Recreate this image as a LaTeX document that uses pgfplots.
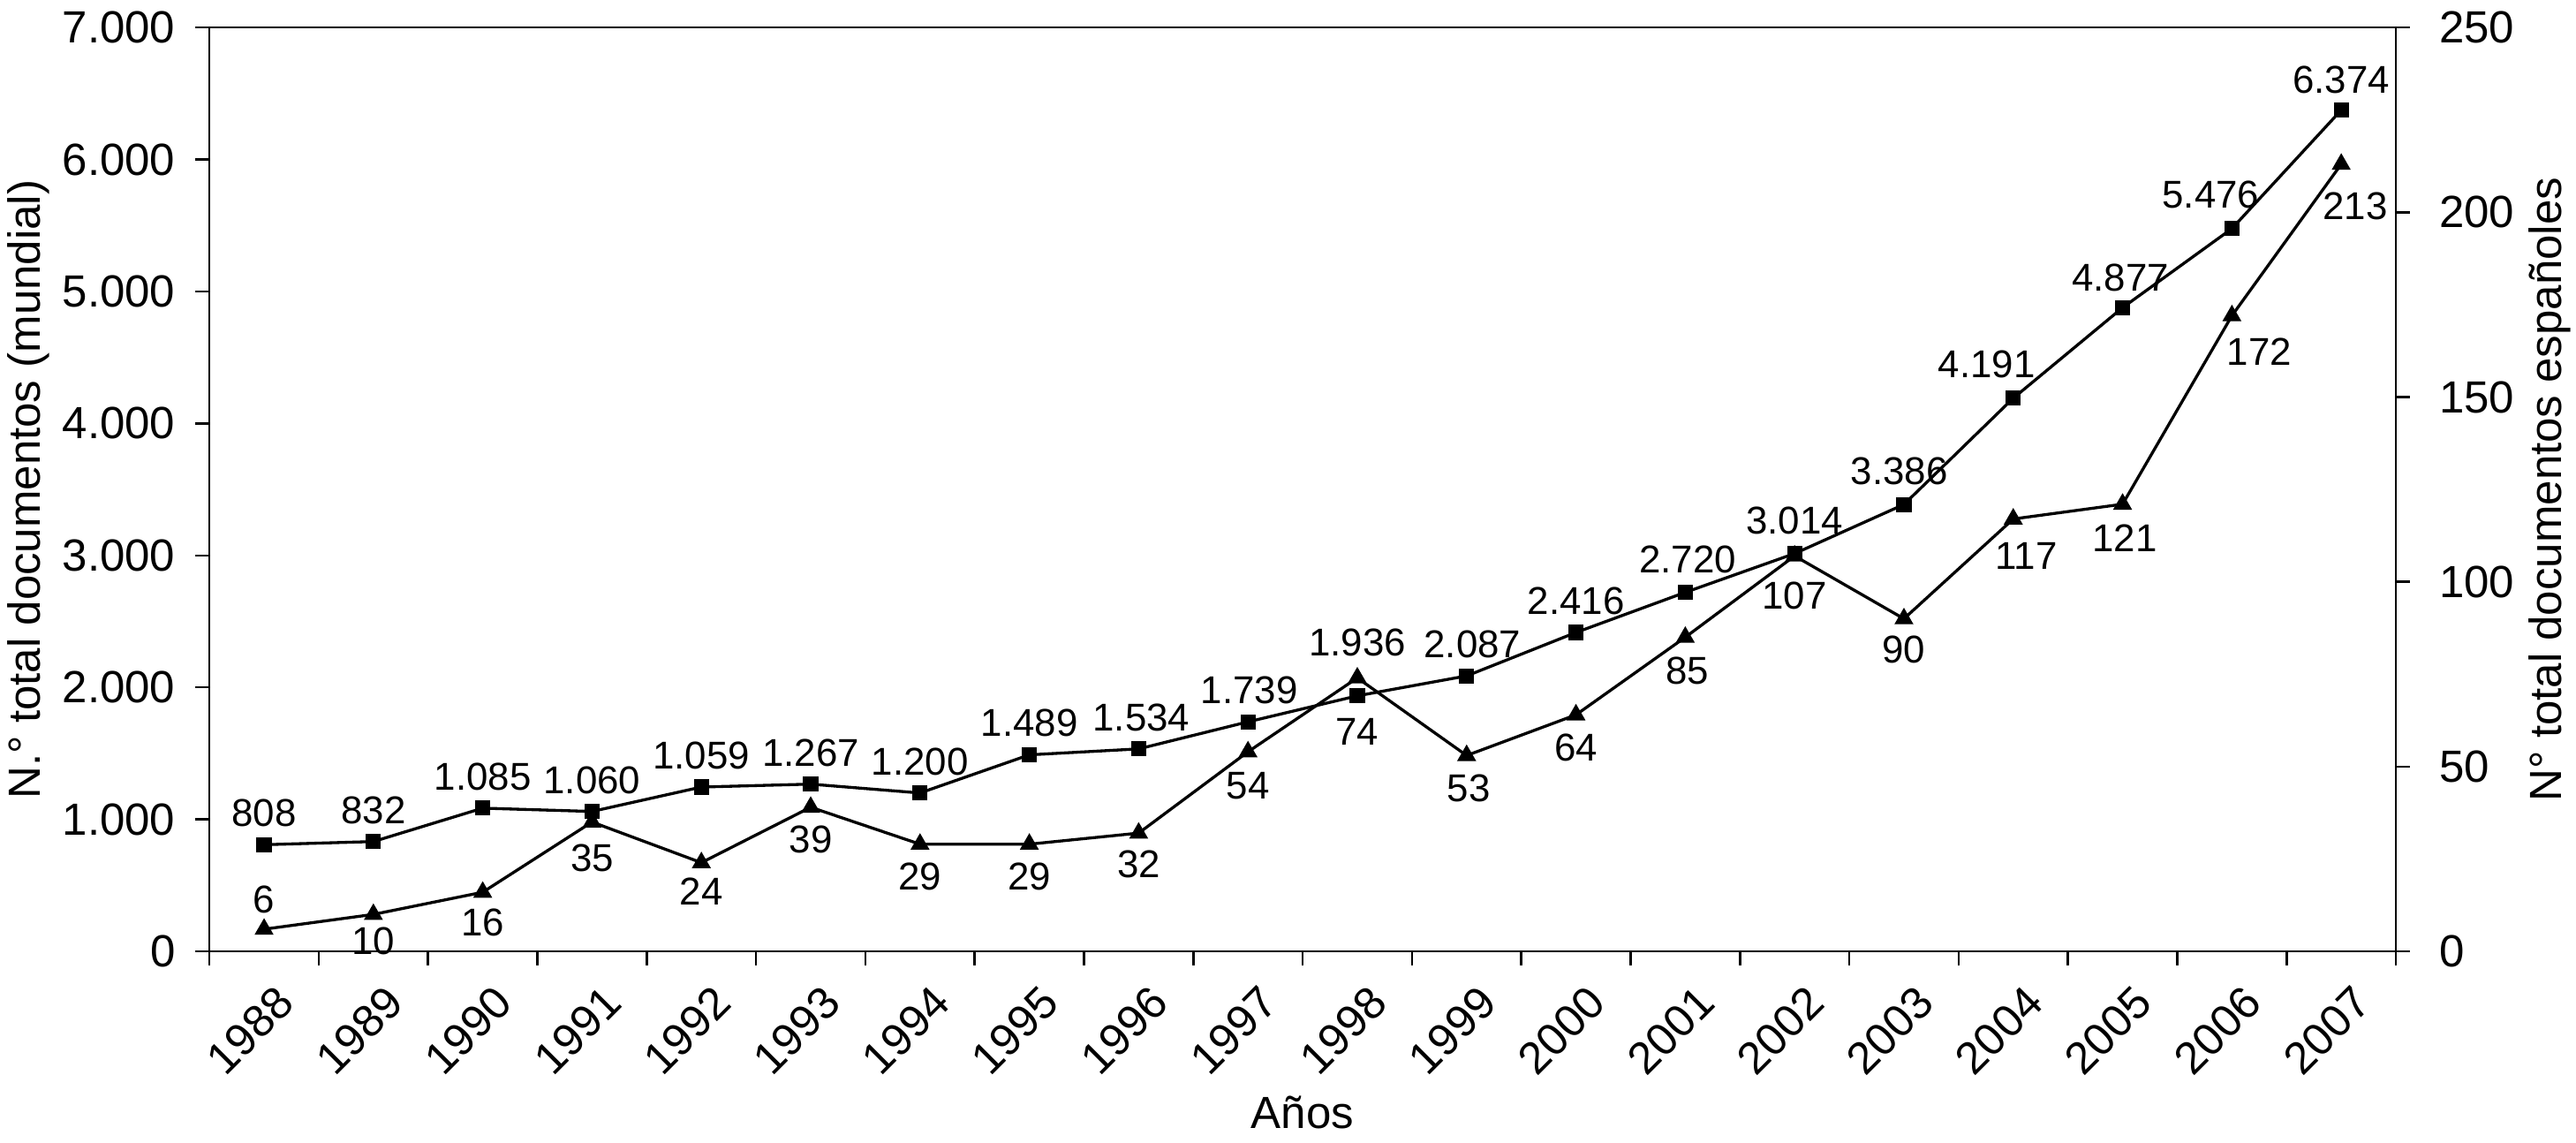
\documentclass[border=0pt]{standalone}
\usepackage{pgfplots}
\pgfplotsset{compat=1.18}
\usepackage{pgfplotstable}
\usepackage{fontspec}
\setmainfont{Liberation Sans}
\setsansfont{Liberation Sans}

\pgfplotstableread{
x y lab dx dy
0 808 808 0 7
1 832 832 0 7
2 1085 1.085 0 7
3 1060 1.060 0 7
4 1245 1.059 0 7
5 1267 1.267 0 7
6 1200 1.200 0 7
7 1489 1.489 0 7
8 1534 1.534 0.6 7
9 1739 1.739 0.3 7
10 1936 1.936 0 11.8
11 2087 2.087 1.3 7
12 2416 2.416 0 7
13 2720 2.720 0.5 7.2
14 3014 3.014 0 7.4
15 3386 3.386 -1 7.4
16 4191 4.191 -5.9 7.6
17 4877 4.877 -0.5 6.7
18 5476 5.476 -4.7 7.5
19 6374 6.374 0 6.7
}\world

\pgfplotstableread{
x y lab dx dy
0 6 6 0 6.5
1 10 10 0 -5.9
2 16 16 0 -6.7
3 35 35 0 -8
4 24 24 0 -6.3
5 39 39 0 -7.2
6 29 29 0 -7.2
7 29 29 0 -7.2
8 32 32 0 -6.9
9 54 54 0 -7.6
10 74 74 0 -12
11 53 53 0.5 -7.3
12 64 64 0 -7.2
13 85 85 0.5 -7.5
14 107 107 0 -8.8
15 90 90 0 -6.9
16 117 117 2.9 -8.2
17 121 121 0.5 -7.5
18 172 172 6.1 -8
19 213 213 3.1 -9.4
}\spain

\begin{document}
\begin{tikzpicture}
\pgfplotsset{
  common/.style={
    width=485.5pt, height=205.1pt, scale only axis,
    xmin=-0.5, xmax=19.5,
    tick align=outside,
    axis line style={line width=0.5pt},
    every tick/.style={black, line width=0.5pt},
    major tick length=3.1pt,
    tick label style={font=\fontsize{10}{12}\selectfont},
    label style={font=\fontsize{10}{12}\selectfont},
    /pgf/number format/assume math mode=true,
    clip=false,
  },
  labs/.style={
    point meta=explicit symbolic,
    nodes near coords,
    visualization depends on={\thisrow{dx} \as \dx},
    visualization depends on={\thisrow{dy} \as \dy},
    every node near coord/.append style={anchor=center, inner sep=0pt,
      xshift=\dx pt, yshift=\dy pt, font=\fontsize{8.6}{10}\selectfont, black},
  },
}
\begin{axis}[common, name=ax,
  tick pos=left,
  ymin=0, ymax=7000,
  ytick={0,1000,2000,3000,4000,5000,6000,7000},
  yticklabels={0,1.000,2.000,3.000,4.000,5.000,6.000,7.000},
  yticklabel style={anchor=east, inner sep=0pt, xshift=-4.3pt},
  xtick={-0.5,0.5,...,19.5}, xticklabels={},
  extra x ticks={0,1,...,19},
  extra x tick labels={1988,1989,1990,1991,1992,1993,1994,1995,1996,1997,1998,1999,2000,2001,2002,2003,2004,2005,2006,2007},
  extra x tick style={major tick length=0pt},
  xticklabel style={xshift=2.2pt, yshift=-6.9pt, rotate=45, anchor=north east, inner sep=0pt},
  xlabel={Años},
  xlabel style={at={(axis description cs:0.5,-0.192)}, anchor=base},
  ylabel={N.° total documentos (mundial)},
  ylabel style={at={(axis description cs:-0.0775,0.5)}, anchor=base},
]
\addplot[black, line width=0.65pt, mark=square*, mark size=1.35pt, mark options={solid}, labs]
  table[x=x, y=y, meta=lab] {\world};
\end{axis}
\begin{axis}[common,
  axis y line*=right, axis x line=none,
  ymin=0, ymax=250,
  ytick={0,50,100,150,200,250},
  yticklabel style={anchor=west, inner sep=0pt, xshift=6.3pt},
  ylabel={N° total documentos españoles},
  ylabel style={at={(axis description cs:1.0756,0.5)}, anchor=base},
]
\addplot[black, line width=0.65pt, mark=triangle*, mark size=1.8pt, mark options={solid}, labs]
  table[x=x, y=y, meta=lab] {\spain};
\end{axis}
\pgfresetboundingbox
\path[use as bounding box] ([shift={(-46.5pt,-42.5pt)}]ax.south west) rectangle ([shift={(40pt,6.1pt)}]ax.north east);
\end{tikzpicture}
\end{document}
